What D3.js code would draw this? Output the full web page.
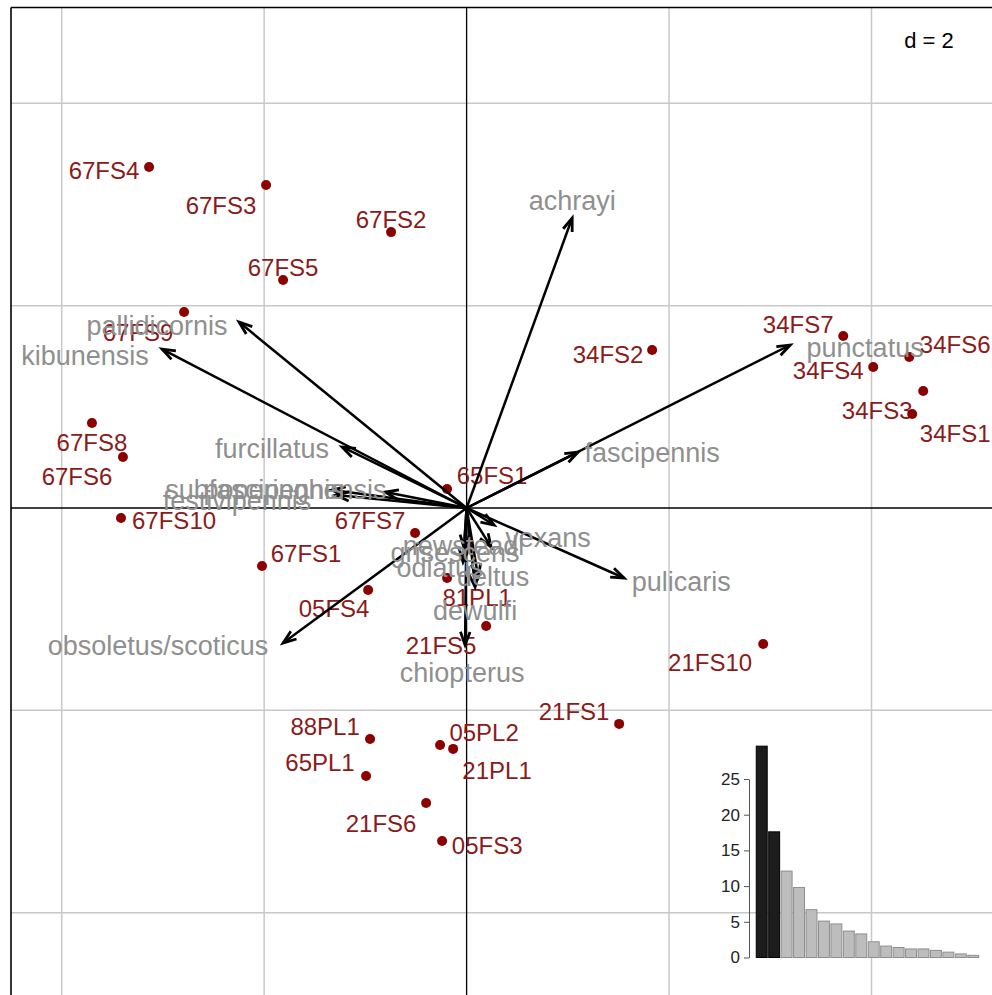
<!DOCTYPE html>
<html>
<head>
<meta charset="utf-8">
<script src="https://cdn.jsdelivr.net/npm/d3@7/dist/d3.min.js"></script>
<style>
  html, body { margin: 0; padding: 0; background: #fff; }
  svg { display: block; }
  text { font-family: "Liberation Sans", Arial, sans-serif; }
</style>
</head>
<body>
<svg id="chart" width="992" height="995"></svg>
<script>
// ---- sites (rows) : point coordinates and label coordinates, in axis units ----
const siteNames = ["67FS4","67FS3","67FS2","67FS5","67FS9","67FS8","67FS6","67FS10","67FS1","67FS7",
  "65FS1","05FS4","81PL1","21FS5","21FS10","21FS1","88PL1","05PL2","21PL1","65PL1",
  "21FS6","05FS3","34FS2","34FS7","34FS6","34FS4","34FS3","34FS1"];
const siteX = [-3.137,-1.981,-0.746,-1.813,-2.791,-3.701,-3.395,-3.414,-2.021,-0.509,
  -0.193,-0.973,-0.193,0.193,2.930,1.507,-0.954,-0.262,-0.133,-0.993,
  -0.400,-0.242,1.833,3.721,4.373,4.017,4.511,4.402];
const siteY = [3.370,3.192,2.727,2.253,1.937,0.840,0.504,-0.099,-0.573,-0.247,
  0.188,-0.810,-0.692,-1.166,-1.344,-2.134,-2.283,-2.342,-2.381,-2.648,
  -2.915,-3.291,1.561,1.700,1.492,1.393,1.156,0.929];
const siteLabX = [-3.582,-2.426,-0.746,-1.813,-3.246,-3.701,-3.849,-2.890,-1.586,-0.954,
  0.252,-1.309,0.104,-0.252,2.406,1.062,-1.398,0.173,0.301,-1.448,
  -0.845,0.203,1.398,3.276,4.827,3.572,4.056,4.827];
const siteLabY = [3.340,2.994,2.856,2.381,1.739,0.652,0.316,-0.119,-0.445,-0.119,
  0.326,-0.988,-0.879,-1.354,-1.522,-2.006,-2.154,-2.213,-2.589,-2.510,
  -3.113,-3.330,1.522,1.818,1.621,1.364,0.968,0.741];

// ---- species (columns) : arrow tips and label coordinates ----
const speciesNames = ["achrayi","pallidicornis","kibunensis","furcillatus","punctatus","fascipennis",
  "vexans","pulicaris","obsoletus/scoticus","chiopterus","dewulfi","deltus","odiatus",
  "grisescens","newsteadi","subfascipennis","festivipennis","poperinghensis"];
const specX = [1.043,-2.248,-3.009,-1.230,3.197,1.102,0.272,1.556,-1.813,-0.015,0.084,0.114,-0.035,
  -0.025,0.242,-1.329,-1.290,-0.805];
const specY = [2.866,1.838,1.571,0.603,1.611,0.553,-0.168,-0.692,-1.334,-1.354,-0.781,-0.682,-0.534,
  -0.395,-0.385,0.178,0.128,0.158];
const specLabX = [1.043,-3.058,-3.770,-1.922,3.937,1.833,0.805,2.120,-3.048,-0.044,0.084,0.262,-0.262,
  -0.114,-0.030,-2.095,-2.268,-1.695];
const specLabY = [3.043,1.808,1.512,0.593,1.591,0.553,-0.287,-0.721,-1.354,-1.621,-1.008,-0.672,-0.583,
  -0.435,-0.365,0.188,0.079,0.188];

// ---- grid and eigenvalues ----
const gridTicks = [-4, -2, 2, 4];
const gridStep = "d = 2";
const eigenvalues = [29.6,17.6,12.1,9.8,6.7,5.1,4.7,3.7,3.3,2.2,1.6,1.4,1.2,1.2,1.0,0.75,0.5,0.3];
const eigenTicks = [0,5,10,15,20,25];
const nKept = 2;

// ---------------------------------------------------------------------------
(function () {
const svg = d3.select("#chart");
const W = 992, H = 995;
const fLeft = 11, fTop = 7.5;

const x = d3.scaleLinear().domain([-4, 4]).range([61.7, 871.5]);
const y = d3.scaleLinear().domain([-4, 4]).range([912.7, 103.3]);

svg.append("defs").append("clipPath").attr("id", "plotclip")
  .append("rect").attr("x", fLeft).attr("y", fTop).attr("width", W - fLeft).attr("height", H - fTop);

const g = svg.append("g").attr("clip-path", "url(#plotclip)");

// grid
g.selectAll("line.gv").data(gridTicks).join("line").attr("class", "gv")
  .attr("x1", d => x(d)).attr("x2", d => x(d)).attr("y1", fTop).attr("y2", H)
  .attr("stroke", "#c8c8c8").attr("stroke-width", 1.5);
g.selectAll("line.gh").data(gridTicks).join("line").attr("class", "gh")
  .attr("y1", d => y(d)).attr("y2", d => y(d)).attr("x1", fLeft).attr("x2", W)
  .attr("stroke", "#c8c8c8").attr("stroke-width", 1.5);

// axes through origin
g.append("line").attr("x1", fLeft).attr("x2", W).attr("y1", y(0)).attr("y2", y(0))
  .attr("stroke", "#000").attr("stroke-width", 1.3);
g.append("line").attr("x1", x(0)).attr("x2", x(0)).attr("y1", fTop).attr("y2", H)
  .attr("stroke", "#000").attr("stroke-width", 1.3);

// frame (top and left visible)
svg.append("line").attr("x1", fLeft).attr("x2", W).attr("y1", fTop).attr("y2", fTop)
  .attr("stroke", "#000").attr("stroke-width", 1.6);
svg.append("line").attr("x1", fLeft).attr("x2", fLeft).attr("y1", fTop).attr("y2", H)
  .attr("stroke", "#000").attr("stroke-width", 1.6);

// d = 2
svg.append("text").attr("x", 929).attr("y", 48).attr("text-anchor", "middle")
  .attr("font-size", 22).attr("fill", "#000").text(gridStep);

// eigenvalue inset
const ex = d3.scaleBand().domain(eigenvalues.map((d, i) => i)).range([756, 979]).paddingInner(0.12).paddingOuter(0.02);
const ey = d3.scaleLinear().domain([0, 25]).range([957.5, 779]);
const ins = svg.append("g");
ins.selectAll("rect").data(eigenvalues).join("rect")
  .attr("x", (d, i) => ex(i)).attr("width", ex.bandwidth())
  .attr("y", d => ey(d)).attr("height", d => ey(0) - ey(d))
  .attr("fill", (d, i) => i < nKept ? "#1c1c1c" : "#bdbdbd")
  .attr("stroke", (d, i) => i < nKept ? "#000" : "#8e8e8e").attr("stroke-width", 1);
const yAx = ins.append("g").attr("transform", "translate(749,0)")
  .call(d3.axisLeft(ey).tickValues(eigenTicks).tickSize(5).tickPadding(4).tickSizeOuter(0));
yAx.select(".domain").attr("stroke", "#555");
yAx.selectAll(".tick line").attr("stroke", "#555");
yAx.selectAll(".tick text").attr("font-size", 17).attr("fill", "#222")
  .attr("font-family", "Liberation Sans, Arial, sans-serif");

// site labels and points
const sites = siteNames.map((n, i) => ({n, x: siteX[i], y: siteY[i], lx: siteLabX[i], ly: siteLabY[i]}));
g.selectAll("text.site").data(sites).join("text").attr("class", "site")
  .attr("x", d => x(d.lx)).attr("y", d => y(d.ly)).attr("dy", "0.36em")
  .attr("text-anchor", "middle").attr("font-size", 24).attr("fill", "#8b1a1a").text(d => d.n);
g.selectAll("circle.site").data(sites).join("circle").attr("class", "site")
  .attr("cx", d => x(d.x)).attr("cy", d => y(d.y)).attr("r", 5).attr("fill", "#8b0000");

// species arrows
const spec = speciesNames.map((n, i) => ({n, x: specX[i], y: specY[i], lx: specLabX[i], ly: specLabY[i]}));
const ox = x(0), oy = y(0);
g.selectAll("line.arrow").data(spec).join("line").attr("class", "arrow")
  .attr("x1", ox).attr("y1", oy).attr("x2", d => x(d.x)).attr("y2", d => y(d.y))
  .attr("stroke", "#000").attr("stroke-width", 2.5);
const headLen = 14, headAng = 20 * Math.PI / 180;
g.selectAll("path.head").data(spec).join("path").attr("class", "head")
  .attr("d", d => {
    const tx = x(d.x), ty = y(d.y);
    const a = Math.atan2(ty - oy, tx - ox);
    const p1 = [tx - headLen * Math.cos(a - headAng), ty - headLen * Math.sin(a - headAng)];
    const p2 = [tx - headLen * Math.cos(a + headAng), ty - headLen * Math.sin(a + headAng)];
    return `M${p1[0]},${p1[1]}L${tx},${ty}L${p2[0]},${p2[1]}`;
  })
  .attr("fill", "none").attr("stroke", "#000").attr("stroke-width", 2.8).attr("stroke-linejoin", "miter");
g.selectAll("text.spec").data(spec).join("text").attr("class", "spec")
  .attr("x", d => x(d.lx)).attr("y", d => y(d.ly)).attr("dy", "0.36em")
  .attr("text-anchor", "middle").attr("font-size", 27).attr("fill", "#8f8f8f").text(d => d.n);
})();
</script>
</body>
</html>
